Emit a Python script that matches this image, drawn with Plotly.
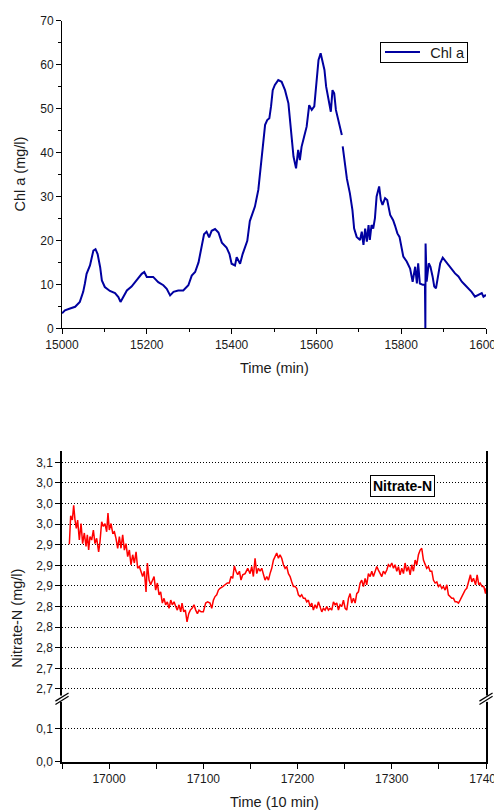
import plotly.graph_objects as go

# ---------------- data: top panel (Chl a) ----------------
CHL_TIME = [15000, 15007, 15019, 15031, 15042, 15050, 15054, 15058, 15066, 15070,
            15074, 15079, 15084, 15090, 15094, 15101, 15113, 15125, 15133, 15138,
            15145, 15153, 15164, 15176, 15188, 15194, 15200, 15208, 15215, 15227,
            15239, 15247, 15255, 15263, 15274, 15286, 15298, 15306, 15314, 15322,
            15329, 15335, 15341, 15347, 15353, 15361, 15369, 15377, 15388, 15395,
            15400, 15408, 15412, 15420, 15426, 15432, 15437, 15443, 15455, 15463,
            15469, 15475, 15479, 15484, 15489, 15493, 15497, 15502, 15510, 15518,
            15526, 15534, 15538, 15542, 15546, 15552, 15557, 15561, 15565, 15571,
            15577, 15583, 15589, 15595, 15601, 15605, 15610, 15615, 15619, 15623,
            15628, 15634, 15638, 15642, 15646, 15652, 15657, 15660, 15661, 15662,
            15667, 15672, 15679, 15685, 15689, 15695, 15703, 15707, 15711, 15715,
            15719, 15723, 15726, 15730, 15734, 15738, 15742, 15748, 15752, 15756,
            15762, 15767, 15774, 15781, 15785, 15791, 15796, 15800, 15805, 15813,
            15821, 15827, 15833, 15837, 15840, 15844, 15851, 15856, 15857, 15857.5,
            15860, 15865, 15869, 15874, 15878, 15882, 15886, 15892, 15898, 15903,
            15911, 15919, 15927, 15935, 15943, 15950, 15958, 15966, 15974, 15982,
            15990, 15994, 16000]
CHL_VALUE = [3.4, 4.1, 4.5, 4.9, 6.0, 8.3, 10.2, 12.4, 14.3, 15.8,
             17.7, 18.0, 16.9, 13.9, 10.9, 9.4, 8.5, 8.0, 7.1, 6.0,
             7.1, 8.6, 9.5, 10.9, 12.4, 12.8, 11.7, 11.7, 11.7, 10.5,
             9.8, 9.0, 7.5, 8.3, 8.6, 8.6, 9.8, 12.0, 12.8, 15.0,
             18.4, 21.4, 22.0, 20.7, 22.2, 22.6, 21.8, 19.5, 18.4, 16.9,
             14.7, 14.3, 16.2, 14.7, 16.9, 18.4, 19.9, 24.4, 27.7, 31.5,
             36.8, 42.9, 46.3, 47.4, 47.8, 50.5, 54.2, 55.4, 56.5, 56.1,
             54.2, 51.2, 46.7, 42.9, 39.1, 36.4, 40.6, 38.3, 41.3, 43.6,
             45.9, 50.8, 49.7, 50.5, 58.0, 61.1, 62.6, 60.3, 58.8, 55.0,
             52.4, 49.3, 54.2, 53.5, 49.7, 47.0, 45.5, 44.0, None, 41.4,
             37.0, 34.0, 30.7, 26.9, 22.7, 20.8, 20.1, 22.0, 19.0, 22.7,
             19.7, 23.5, 20.1, 23.5, 22.7, 25.0, 30.0, 32.3, 29.2, 28.1,
             29.6, 29.2, 25.8, 24.6, 23.5, 21.6, 20.8, 18.6, 16.3, 15.2,
             13.6, 10.6, 14.0, 10.2, 14.8, 10.2, 9.9, 9.9, 0.0, 19.3,
             10.6, 14.8, 14.0, 11.8, 9.5, 9.1, 11.8, 14.8, 16.1, 15.5,
             14.4, 13.6, 12.5, 11.8, 10.6, 9.9, 9.1, 8.3, 7.2, 7.6,
             8.0, 7.2, 7.6]

# ---------------- data: bottom panel (Nitrate-N) ----------------
NIT_TIME = [16957.8, 16959.2, 16961.0, 16962.4, 16963.8, 16965.2, 16966.6, 16968.4, 16970.2, 16971.9,
            16973.7, 16975.5, 16976.9, 16978.3, 16979.7, 16981.5, 16983.3, 16985.0, 16986.8, 16988.9,
            16990.3, 16992.1, 16993.9, 16995.6, 16997.4, 16998.8, 17000.2, 17002.0, 17003.8, 17005.6,
            17007.3, 17009.1, 17010.9, 17012.6, 17014.4, 17016.2, 17017.9, 17019.7, 17021.5, 17023.2,
            17025.0, 17026.8, 17028.6, 17030.3, 17032.1, 17033.9, 17035.6, 17037.4, 17039.2, 17040.6,
            17042.4, 17044.1, 17045.9, 17047.7, 17049.4, 17051.2, 17053.0, 17054.7, 17056.5, 17058.3,
            17060.0, 17061.8, 17063.6, 17065.4, 17067.1, 17068.9, 17070.7, 17072.4, 17074.2, 17076.0,
            17077.4, 17079.2, 17080.9, 17082.7, 17084.5, 17086.2, 17088.0, 17090.1, 17091.9, 17093.7,
            17095.4, 17097.6, 17100.0, 17102.5, 17104.6, 17107.1, 17108.9, 17110.7, 17112.4, 17114.2,
            17116.0, 17117.7, 17120.6, 17123.0, 17125.5, 17127.6, 17129.4, 17131.2, 17132.9, 17134.7,
            17136.5, 17138.3, 17140.0, 17141.8, 17144.3, 17147.1,
            17149.6, 17151.4, 17153.1, 17154.9, 17156.7, 17158.4, 17160.2, 17162.0, 17163.8, 17165.5,
            17167.3, 17169.1, 17170.8, 17172.6, 17174.4, 17176.1, 17177.9, 17179.7, 17181.4, 17183.2,
            17185.0, 17186.8, 17188.5, 17190.3, 17192.1, 17193.8, 17195.6, 17197.4, 17199.1, 17200.9,
            17202.7, 17204.4, 17206.2, 17208.0, 17209.8, 17211.5, 17213.3, 17215.1, 17216.8, 17218.6,
            17220.4, 17222.1, 17223.9, 17225.7, 17227.4, 17229.2, 17231.0, 17232.8, 17234.5, 17236.3,
            17238.1, 17239.8, 17241.6, 17243.4, 17245.1, 17246.9, 17248.7, 17250.5, 17252.2, 17254.0,
            17255.8, 17257.5, 17259.3, 17261.1, 17262.8, 17264.6, 17266.4, 17268.1, 17269.9, 17271.7,
            17273.4, 17275.2, 17277.0, 17278.8, 17280.5, 17282.3, 17284.1, 17285.8, 17287.6, 17289.4,
            17291.1, 17292.9, 17294.7, 17296.4, 17298.2, 17300.0, 17301.8, 17303.5, 17305.3, 17307.1,
            17308.8, 17310.6, 17312.4, 17314.1, 17315.9, 17317.7, 17319.5, 17321.2, 17323.0, 17324.8,
            17326.5, 17328.3, 17330.1, 17331.8, 17333.6, 17335.4, 17337.1, 17338.9, 17340.7, 17342.5,
            17344.2, 17346.0, 17347.8, 17349.5, 17351.3, 17353.1, 17354.8, 17356.6, 17358.4, 17360.1,
            17361.9, 17363.7, 17365.5, 17367.2, 17369.0, 17370.8, 17372.5, 17374.3, 17376.1, 17377.8,
            17379.6, 17381.4, 17383.5, 17384.9, 17386.7, 17388.9, 17390.6, 17392.4, 17393.8, 17395.9,
            17397.7, 17399.5, 17400.0]
NIT_VALUE = [2.926, 2.974, 2.967, 2.992, 2.967, 2.953, 2.967, 2.933, 2.961, 2.927,
             2.945, 2.922, 2.942, 2.916, 2.939, 2.933, 2.950, 2.927, 2.936, 2.913,
             2.930, 2.964, 2.956, 2.961, 2.947, 2.979, 2.950, 2.961, 2.945, 2.947,
             2.936, 2.919, 2.939, 2.919, 2.942, 2.916, 2.927, 2.905, 2.916, 2.891,
             2.908, 2.894, 2.913, 2.885, 2.888, 2.880, 2.871, 2.880, 2.845, 2.894,
             2.865, 2.857, 2.865, 2.871, 2.848, 2.860, 2.840, 2.845, 2.826, 2.834,
             2.823, 2.828, 2.817, 2.831, 2.823, 2.828, 2.820, 2.814, 2.823, 2.811,
             2.826, 2.811, 2.814, 2.794, 2.808, 2.814, 2.817, 2.823, 2.814, 2.808,
             2.814, 2.811, 2.811, 2.826, 2.828, 2.826, 2.817, 2.831, 2.837, 2.840,
             2.848, 2.851, 2.854, 2.857, 2.860, 2.860, 2.871, 2.868, 2.889, 2.880,
             2.874, 2.880, 2.865, 2.874, 2.876, 2.885,
             2.876, 2.888, 2.871, 2.902, 2.876, 2.885, 2.880, 2.885, 2.874, 2.865,
             2.871, 2.865, 2.876, 2.885, 2.899, 2.905, 2.911, 2.902, 2.908, 2.902,
             2.891, 2.885, 2.888, 2.876, 2.871, 2.862, 2.854, 2.854, 2.851, 2.840,
             2.837, 2.840, 2.834, 2.834, 2.828, 2.831, 2.820, 2.826, 2.814, 2.823,
             2.817, 2.828, 2.820, 2.811, 2.817, 2.814, 2.820, 2.814, 2.817, 2.814,
             2.828, 2.823, 2.826, 2.814, 2.823, 2.820, 2.831, 2.817, 2.814, 2.834,
             2.842, 2.826, 2.834, 2.826, 2.842, 2.845, 2.860, 2.865, 2.854, 2.868,
             2.857, 2.876, 2.871, 2.880, 2.871, 2.880, 2.888, 2.882, 2.876, 2.871,
             2.880, 2.876, 2.882, 2.891, 2.888, 2.894, 2.885, 2.891, 2.880, 2.888,
             2.874, 2.885, 2.876, 2.894, 2.880, 2.888, 2.874, 2.891, 2.880, 2.899,
             2.891, 2.908, 2.916, 2.919, 2.899, 2.891, 2.885, 2.888, 2.880, 2.880,
             2.865, 2.860, 2.862, 2.854, 2.857, 2.851, 2.854, 2.848, 2.857, 2.840,
             2.837, 2.834, 2.834, 2.828, 2.828, 2.826, 2.831, 2.837, 2.845, 2.848,
             2.851, 2.862, 2.874, 2.862, 2.868, 2.857, 2.874, 2.857, 2.860, 2.854,
             2.854, 2.842, 2.851]

NIT_TICK_VALS = [2.680, 2.715, 2.750, 2.785, 2.820, 2.855, 2.890, 2.925, 2.960, 2.995, 3.030, 3.065]
NIT_TICK_TEXT = ["2,7", "2,7", "2,8", "2,8", "2,8", "2,9", "2,9", "2,9", "3,0", "3,0", "3,0", "3,1"]
LOW_TICK_VALS = [0.0, 0.1]
LOW_TICK_TEXT = ["0,0", "0,1"]

FONT = "Liberation Sans, Arial, sans-serif"
TXT = "#1a1a1a"
CHL_COLOR = "#0000A0"

fig = go.Figure()
fig.add_trace(go.Scatter(x=CHL_TIME, y=CHL_VALUE, mode="lines", name="Chl a",
                         line=dict(color=CHL_COLOR, width=2), connectgaps=False,
                         showlegend=False, xaxis="x", yaxis="y"))
# the nitrate series on the upper (broken) segment of the bottom axis
fig.add_trace(go.Scatter(x=NIT_TIME, y=NIT_VALUE, mode="lines", name="Nitrate-N",
                         line=dict(color="#FF0000", width=1.5), showlegend=False,
                         xaxis="x3", yaxis="y4"))
# same series on the lower segment (0 - 0.19): all values lie above it, nothing shows
fig.add_trace(go.Scatter(x=NIT_TIME, y=NIT_VALUE, mode="lines", name="Nitrate-N low",
                         line=dict(color="#FF0000", width=1.5), showlegend=False,
                         hoverinfo="skip", xaxis="x3", yaxis="y3"))

tickfont = dict(family=FONT, size=12, color=TXT)
TOP_DOM = [0.5845, 0.999]
LOW_DOM = [0.0, 0.0853]
UP_DOM = [0.0853, 0.4195]

# the page body has an 8px default margin: figure is sized so that it fits the window
fig.update_layout(
    width=494, height=803,
    margin=dict(l=54, r=16, t=12, b=49, autoexpand=False),
    plot_bgcolor="white", paper_bgcolor="white",
    font=dict(family=FONT, color=TXT),
    showlegend=False,
    # top panel
    xaxis=dict(domain=[0, 1], anchor="y", range=[15000, 16000], dtick=200, tick0=15000,
               tickformat="d", showgrid=False, zeroline=False, showline=True, automargin=False,
               ticklabeloverflow="allow",
               linecolor="black", linewidth=1, ticks="outside", ticklen=5,
               tickcolor="black", tickfont=tickfont,
               minor=dict(dtick=100, ticks="outside", ticklen=3, tickcolor="black")),
    xaxis2=dict(overlaying="x", anchor="y", side="top", range=[15000, 16000], dtick=100,
                showticklabels=False, showgrid=False, zeroline=False, showline=True,
                automargin=False, linecolor="black", linewidth=1, ticks="inside",
                ticklen=3, tickcolor="#555"),
    yaxis=dict(domain=TOP_DOM, anchor="x", range=[0, 70], dtick=10, showgrid=False,
               zeroline=False, showline=True, linecolor="black", linewidth=1, automargin=False,
               ticks="outside", ticklen=5, tickcolor="black", tickfont=tickfont,
               minor=dict(dtick=5, ticks="outside", ticklen=3, tickcolor="black")),
    yaxis2=dict(overlaying="y", anchor="x", side="right", range=[0, 70], dtick=5,
                showticklabels=False, showgrid=False, zeroline=False, showline=True,
                automargin=False, linecolor="#444", linewidth=1.5, ticks="inside",
                ticklen=3, tickcolor="#555"),
    # bottom panel
    xaxis3=dict(domain=[0, 1], anchor="y3", range=[16950, 17400], dtick=100, tick0=17000,
                tickformat="d", showgrid=False, zeroline=False, showline=True, automargin=False,
                ticklabeloverflow="allow",
                linecolor="black", linewidth=1.5, ticks="outside", ticklen=5,
                tickcolor="black", tickfont=tickfont,
                minor=dict(dtick=50, tick0=16950, ticks="outside", ticklen=5, tickcolor="black")),
    xaxis4=dict(overlaying="x3", anchor="y4", side="top", range=[16950, 17400], dtick=50,
                tick0=16950, showticklabels=False, showgrid=False, zeroline=False,
                showline=True, automargin=False, linecolor="black", linewidth=1.5,
                ticks="inside", ticklen=3, tickcolor="#555"),
    yaxis3=dict(domain=LOW_DOM, anchor="x3", range=[0, 0.1918], tickvals=LOW_TICK_VALS,
                ticktext=LOW_TICK_TEXT, showgrid=True, gridcolor="black", gridwidth=1,
                griddash="1px,2px", zeroline=False, showline=True, linecolor="black",
                automargin=False, linewidth=1.5, mirror=True, ticks="outside", ticklen=5,
                tickcolor="black", tickfont=tickfont),
    yaxis4=dict(domain=UP_DOM, anchor="x3", range=[2.6635, 3.0847], tickvals=NIT_TICK_VALS,
                ticktext=NIT_TICK_TEXT, showgrid=True, gridcolor="black", gridwidth=1,
                griddash="1px,2px", zeroline=False, showline=True, linecolor="black",
                automargin=False, linewidth=1.5, mirror=True, ticks="outside", ticklen=5,
                tickcolor="black", tickfont=tickfont),
)

# axis titles
title_font = dict(family=FONT, size=14.5, color=TXT)
fig.add_annotation(text="Time (min)", xref="paper", yref="paper", x=0.5, y=0.531,
                   showarrow=False, font=title_font, xanchor="center", yanchor="middle")
fig.add_annotation(text="Chl a (mg/l)", xref="paper", yref="paper", x=-0.099, y=0.7918,
                   showarrow=False, font=title_font, textangle=-90,
                   xanchor="center", yanchor="middle")
fig.add_annotation(text="Time (10 min)", xref="paper", yref="paper", x=0.5, y=-0.0539,
                   showarrow=False, font=title_font, xanchor="center", yanchor="middle")
fig.add_annotation(text="Nitrate-N (mg/l)", xref="paper", yref="paper", x=-0.107, y=0.194,
                   showarrow=False, font=title_font, textangle=-90,
                   xanchor="center", yanchor="middle")

# legend box of the top panel (line sample + label)
fig.add_annotation(text="Chl a", xref="paper", yref="paper", x=0.8538, y=0.9564,
                   showarrow=False, font=dict(family=FONT, size=14.5, color=TXT),
                   width=82, height=15, align="right", borderpad=2,
                   bordercolor="black", borderwidth=1, bgcolor="rgba(255,255,255,0)",
                   xanchor="center", yanchor="middle")
fig.add_shape(type="line", xref="paper", yref="paper", x0=0.7618, x1=0.8443,
              y0=0.9569, y1=0.9569, line=dict(color=CHL_COLOR, width=2), layer="above")

# boxed label for the bottom panel
fig.add_annotation(text="<b>Nitrate-N</b>", xref="paper", yref="paper", x=0.8024, y=0.3721,
                   showarrow=False, font=dict(family=FONT, size=14, color="black"),
                   bordercolor="black", borderwidth=1, borderpad=2, bgcolor="white",
                   xanchor="center", yanchor="middle")

# axis-break marks on both vertical axes of the bottom panel
brk_y = UP_DOM[0]
dx, dy, gap = 0.0155, 0.0055, 0.0045
for xc in (0.0, 1.0):
    fig.add_shape(type="rect", xref="paper", yref="paper",
                  x0=xc - 0.006, x1=xc + 0.006, y0=brk_y - gap / 2 - 0.002, y1=brk_y + gap / 2 + 0.002,
                  fillcolor="white", line=dict(width=0), layer="above")
    for off in (-gap / 2, gap / 2):
        fig.add_shape(type="line", xref="paper", yref="paper",
                      x0=xc - dx, x1=xc + dx, y0=brk_y + off - dy, y1=brk_y + off + dy,
                      line=dict(color="black", width=1.2), layer="above")

fig.write_html("out.html")
